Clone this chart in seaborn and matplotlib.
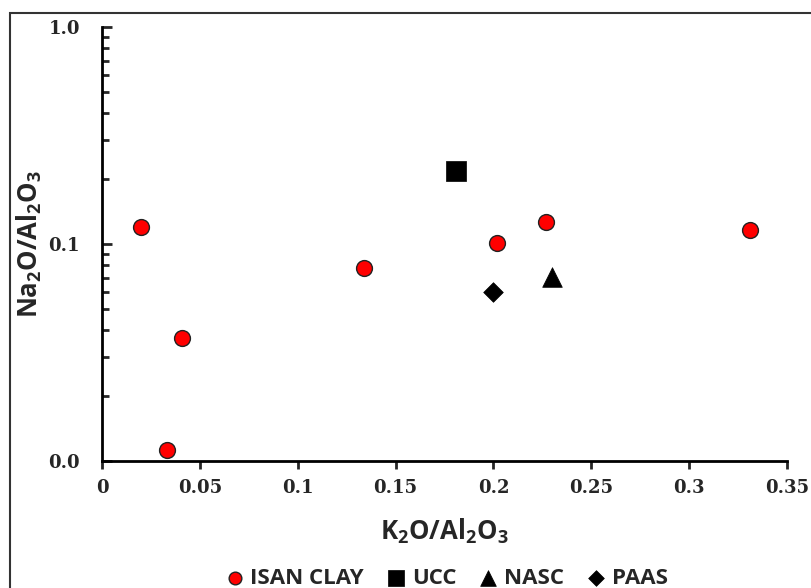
import matplotlib
matplotlib.use("Agg")
import matplotlib.pyplot as plt
import matplotlib.ticker as mticker
from matplotlib.patches import Rectangle
import numpy as np
import pandas as pd
import seaborn as sns

# values (x = K2O/Al2O3, y = Na2O/Al2O3)
isan_x = [0.020, 0.041, 0.033, 0.134, 0.202, 0.227, 0.331]
isan_y = [0.120, 0.0367, 0.0112, 0.0774, 0.101, 0.1265, 0.116]
ucc_x = [0.181]
ucc_y = [0.218]
nasc_x = [0.230]
nasc_y = [0.0703]
paas_x = [0.200]
paas_y = [0.060]

groups = ["ISAN CLAY", "UCC", "NASC", "PAAS"]

df = pd.DataFrame({
    "x": isan_x + ucc_x + nasc_x + paas_x,
    "y": isan_y + ucc_y + nasc_y + paas_y,
    "group": ["ISAN CLAY"] * len(isan_x) + ["UCC"] + ["NASC"] + ["PAAS"],
})

sns.set_style("white")
plt.rcParams["mathtext.default"] = "regular"

fig = plt.figure(figsize=(8.11, 5.88), dpi=100)
ax = fig.add_axes([102 / 811, 1 - 461 / 588, 685 / 811, 434 / 588])

styles = {
    "ISAN CLAY": dict(marker="o", s=130, color="#ff0000", edgecolor="#222222", linewidth=1.0),
    "UCC": dict(marker="s", s=200, color="black", edgecolor="black", linewidth=0.5),
    "NASC": dict(marker="^", s=200, color="black", edgecolor="black", linewidth=0.5),
    "PAAS": dict(marker="D", s=100, color="black", edgecolor="black", linewidth=0.5),
}
for g in groups:
    sub = df[df["group"] == g]
    sns.scatterplot(data=sub, x="x", y="y", ax=ax, label=g, zorder=3, **styles[g])

ax.set_yscale("log")
ax.set_xlim(0, 0.35)
ax.set_ylim(0.01, 1.0)
ax.xaxis.set_major_locator(mticker.FixedLocator(np.arange(0, 0.351, 0.05)))
ax.xaxis.set_major_formatter(mticker.FuncFormatter(lambda v, p: f"{v:g}"))
ax.yaxis.set_major_locator(mticker.FixedLocator([0.01, 0.1, 1.0]))
ax.yaxis.set_major_formatter(mticker.FuncFormatter(lambda v, p: f"{v:.1f}"))
ax.yaxis.set_minor_locator(mticker.LogLocator(subs=np.arange(2, 10)))
ax.yaxis.set_minor_formatter(mticker.NullFormatter())

for side in ["top", "right"]:
    ax.spines[side].set_visible(False)
for side in ["left", "bottom"]:
    ax.spines[side].set_linewidth(2)
    ax.spines[side].set_color("black")

tick_font = "DejaVu Serif"
ax.tick_params(axis="x", which="major", bottom=True, direction="out", length=6, width=2,
               pad=7, labelsize=13, labelfontfamily=tick_font)
ax.tick_params(axis="y", which="both", left=True, direction="in", width=2)
ax.tick_params(axis="y", which="major", length=7, pad=16, labelsize=13,
               labelfontfamily=tick_font)
ax.tick_params(axis="y", which="minor", length=5)

fig.canvas.draw()
for lab in ax.get_xticklabels() + ax.get_yticklabels():
    lab.set_fontweight("bold")

lab_font = dict(family="Open Sans", weight="bold", size=18.5)
ax.set_xlabel("K$_2$O/Al$_2$O$_3$", labelpad=14, **lab_font)
ax.set_ylabel("Na$_2$O/Al$_2$O$_3$", labelpad=3, **lab_font)

ax.legend(loc="lower center", bbox_to_anchor=(0.505, -0.315), ncol=4, frameon=False,
          handlelength=0.6, handletextpad=0.4, columnspacing=1.15, borderaxespad=0,
          prop=dict(family="Open Sans", weight="bold", size=16), markerscale=0.8)

fig.patches.append(Rectangle((10 / 811, -0.05), 1.1, 1 - 13 / 588 + 0.05,
                             transform=fig.transFigure, fill=False,
                             edgecolor="#333333", linewidth=1.5))

fig.savefig("out.png", dpi=100)
